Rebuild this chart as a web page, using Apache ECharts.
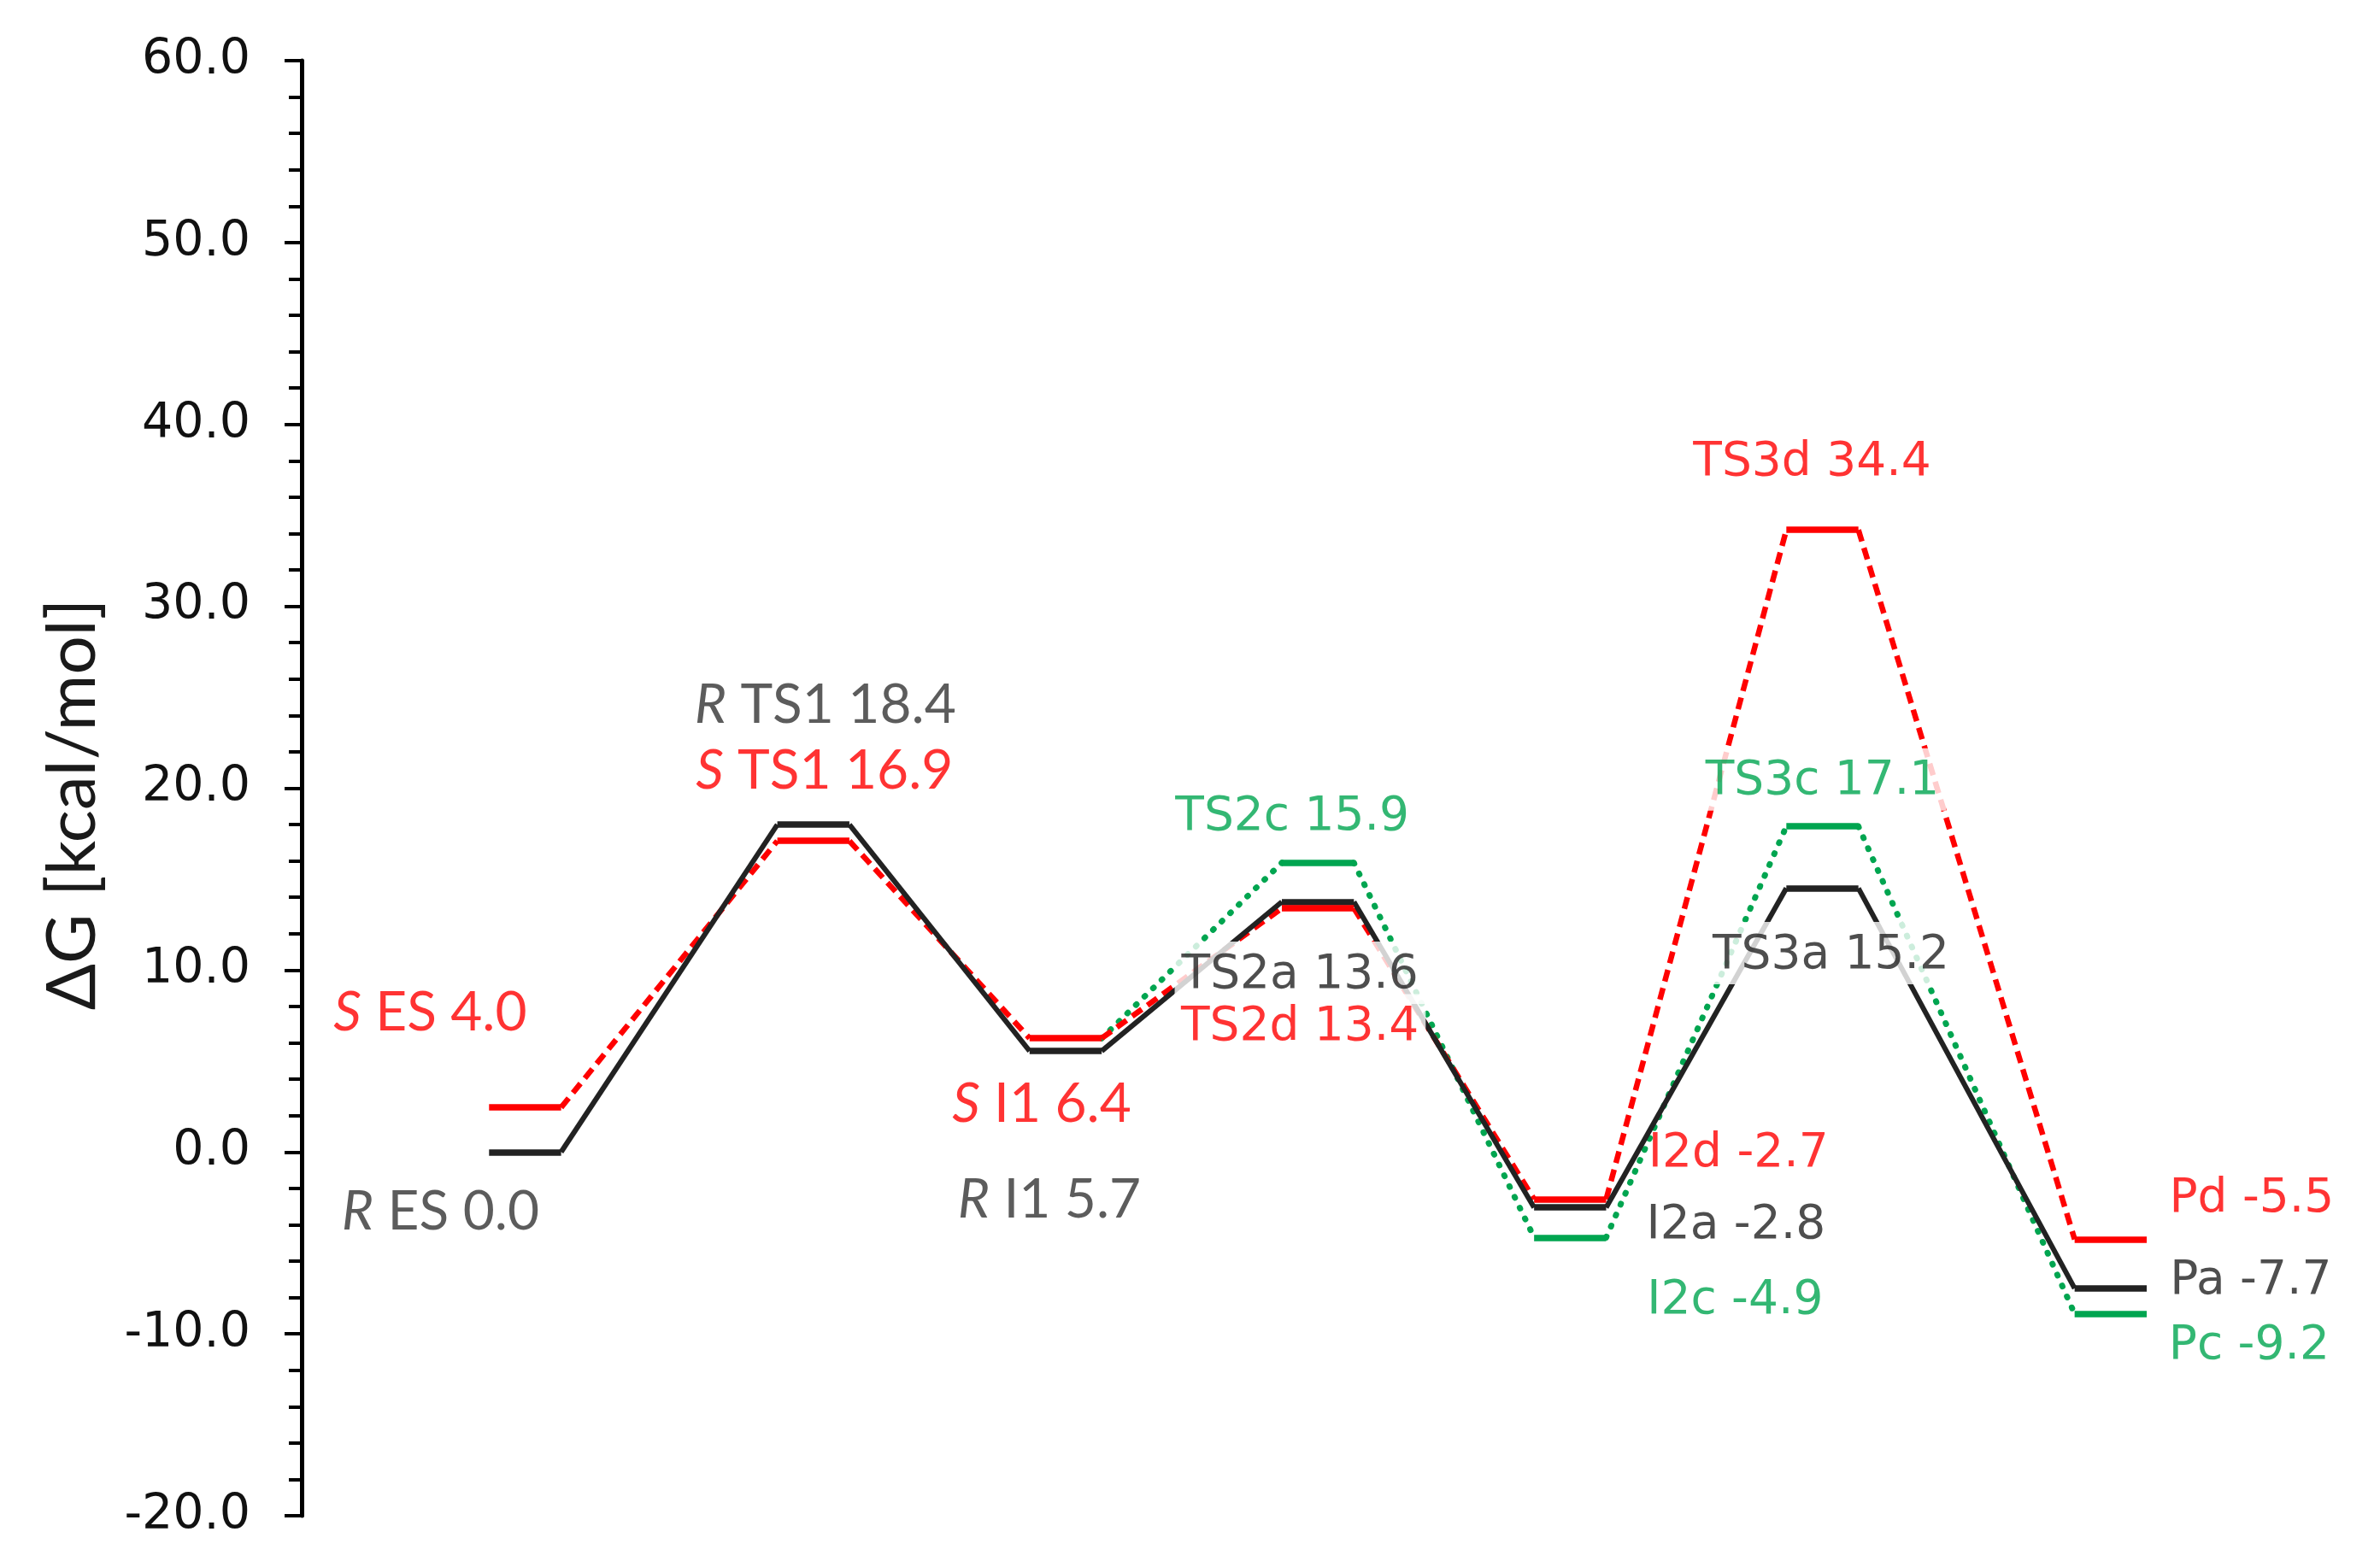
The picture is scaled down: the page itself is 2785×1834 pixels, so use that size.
<!DOCTYPE html>
<html><head><meta charset="utf-8">
<script src="https://cdn.jsdelivr.net/npm/echarts@6/dist/echarts.min.js"></script>
<style>html,body{margin:0;padding:0;background:#fff}#c{width:2785px;height:1834px}</style>
</head><body><div id="c"></div>
<script>
// ---- data ----
const stages = ['ES', 'TS1', 'I1', 'TS2', 'I2', 'TS3', 'P'];
const stageStart = [0, 8, 15, 22, 29, 36, 44];          // reaction-coordinate position of each stage
const pathA = [0.0, 18.0, 5.55, 13.75, -3.05, 14.5, -7.5];   // black (as drawn)
const pathD = [2.45, 17.1, 6.25, 13.4, -2.6, 34.2, -4.8];    // red (as drawn)
const pathC = [null, null, 6.25, 15.9, -4.7, 17.9, -8.9];    // green (as drawn)
const yTicks = [-20, -10, 0, 10, 20, 30, 40, 50, 60];
const labelsA = ['{i|R} ES 0.0', '{i|R} TS1 18.4', '{i|R} I1 5.7', 'TS2a 13.6', 'I2a -2.8', 'TS3a 15.2', 'Pa -7.7'];
const labelsD = ['{i|S} ES 4.0', '{i|S} TS1 16.9', '{i|S} I1 6.4', 'TS2d 13.4', 'I2d -2.7', 'TS3d 34.4', 'Pd -5.5'];
const labelsC = [null, null, null, 'TS2c 15.9', 'I2c -4.9', 'TS3c 17.1', 'Pc -9.2'];

// ---- style / layout ----
const LEVEL_W = 2;
const BLACK = '#222222', RED = '#FF0000', GREEN = '#00A550';
const offA = [[-99, 70], [14, -140], [-19, 174], [-21, 83], [194, 22], [10, 76], [164, -8]];
const offD = [[-111, -111], [13, -82], [-28, 77], [-21, 137], [197, -53], [-12, -78], [165, -47]];
const offC = [null, null, null, [-30, -53], [193, 74], [0, -55], [162, 38]];
const boxed = {A: [3, 5], D: [3], C: [5]};

function levelSegs(vals, from) {
  const out = [];
  vals.forEach((v, i) => {
    if (v == null || i < from) return;
    out.push({coords: [[stageStart[i], v], [stageStart[i] + LEVEL_W, v]]});
  });
  return out;
}
function connSegs(vals) {
  const out = [];
  for (let i = 0; i < vals.length - 1; i++) {
    if (vals[i] == null || vals[i + 1] == null) continue;
    out.push({coords: [[stageStart[i] + LEVEL_W, vals[i]], [stageStart[i + 1], vals[i + 1]]]});
  }
  return out;
}
function labelItems(vals, texts, offs, color, key) {
  const out = [];
  texts.forEach((t, i) => {
    if (t == null) return;
    const calibri = i < 3;
    const ff = calibri ? 'Lato' : 'DejaVu Sans';
    const fs = calibri ? 64 : 55;
    const col = (key === 'A' && calibri) ? '#333333' : color;
    const box = boxed[key].indexOf(i) >= 0;
    out.push({
      value: [stageStart[i] + LEVEL_W / 2, vals[i]],
      label: {
        show: true, position: 'inside', align: 'center', verticalAlign: 'middle',
        offset: offs[i], formatter: t, color: col, fontFamily: ff, fontSize: fs,
        backgroundColor: box ? '#ffffff' : 'transparent', padding: box ? [12, 8, 6, 8] : 0,
        rich: {i: {fontStyle: 'italic', fontFamily: ff, fontSize: fs, color: col}}
      }
    });
  });
  return out;
}

const chart = echarts.init(document.getElementById('c'), null, {renderer: 'canvas'});
const linesBase = {type: 'lines', coordinateSystem: 'cartesian2d', polyline: false, silent: true, animation: false};
chart.setOption({
  animation: false,
  backgroundColor: '#fff',
  grid: {left: 353, right: 273, top: 71, bottom: 60, containLabel: false, outerBoundsMode: 'none'},
  xAxis: {type: 'value', min: -5.2, max: 46, show: false},
  yAxis: {
    type: 'value', min: yTicks[0], max: yTicks[yTicks.length - 1], interval: 10,
    name: 'ΔG [kcal/mol]', nameLocation: 'middle', nameGap: 228,
    nameTextStyle: {fontFamily: 'Lato', fontSize: 80, color: '#1a1a1a', padding: [0, 38, 0, 0]},
    axisLine: {show: true, onZero: false, lineStyle: {color: '#000', width: 5}},
    axisTick: {show: true, length: 20, lineStyle: {color: '#000', width: 4}},
    minorTick: {show: true, splitNumber: 5, length: 15, lineStyle: {color: '#000', width: 4}},
    splitLine: {show: false},
    axisLabel: {formatter: v => v.toFixed(1), fontFamily: 'DejaVu Sans', fontSize: 57, color: '#111', margin: 60}
  },
  series: [
    Object.assign({}, linesBase, {z: 2, data: connSegs(pathC), lineStyle: {color: GREEN, width: 7, type: [1, 13], cap: 'round', opacity: 1}}),
    Object.assign({}, linesBase, {z: 3, data: connSegs(pathD), lineStyle: {color: RED, width: 6.5, type: [14, 8], opacity: 1}}),
    Object.assign({}, linesBase, {z: 4, data: connSegs(pathA), lineStyle: {color: BLACK, width: 6, type: 'solid', opacity: 1}}),
    Object.assign({}, linesBase, {z: 5, data: levelSegs(pathC, 3), lineStyle: {color: GREEN, width: 7.5, opacity: 1}}),
    Object.assign({}, linesBase, {z: 5, data: levelSegs(pathA, 0), lineStyle: {color: BLACK, width: 7.5, opacity: 1}}),
    Object.assign({}, linesBase, {z: 6, data: levelSegs(pathD, 0), lineStyle: {color: RED, width: 7.5, opacity: 1}}),
    {type: 'scatter', z: 10, symbolSize: 1, itemStyle: {color: 'rgba(0,0,0,0)'}, silent: true,
     data: labelItems(pathA, labelsA, offA, BLACK, 'A')
       .concat(labelItems(pathD, labelsD, offD, RED, 'D'))
       .concat(labelItems(pathC, labelsC, offC, GREEN, 'C'))}
  ]
});
</script></body></html>
